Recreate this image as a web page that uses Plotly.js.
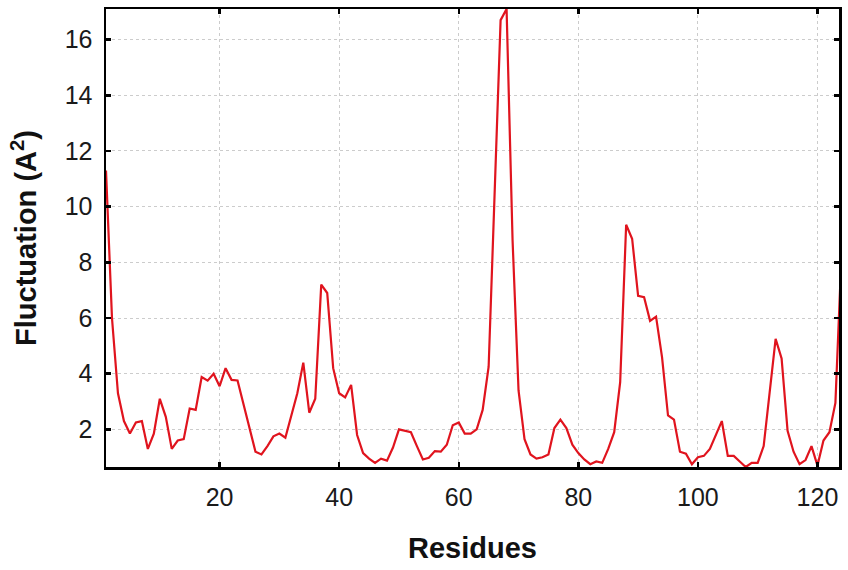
<!DOCTYPE html>
<html>
<head>
<meta charset="utf-8">
<script src="https://cdn.plot.ly/plotly-3.0.1.min.js"></script>
<style>html,body{margin:0;padding:0;background:#fff;}#chart{width:848px;height:570px;}</style>
</head>
<body>
<div id="chart"></div>
<script>
// Residue numbers 1..124
const residues = [
  1,2,3,4,5,6,7,8,9,10,11,12,13,14,15,16,17,18,19,20,
  21,22,23,24,25,26,27,28,29,30,31,32,33,34,35,36,37,38,39,40,
  41,42,43,44,45,46,47,48,49,50,51,52,53,54,55,56,57,58,59,60,
  61,62,63,64,65,66,67,68,69,70,71,72,73,74,75,76,77,78,79,80,
  81,82,83,84,85,86,87,88,89,90,91,92,93,94,95,96,97,98,99,100,
  101,102,103,104,105,106,107,108,109,110,111,112,113,114,115,116,117,118,119,120,
  121,122,123,124
];
// Fluctuation values (A^2)
const fluctuation = [
  11.3,6.0,3.3,2.3,1.85,2.25,2.3,1.3,1.85,3.1,
  2.45,1.3,1.6,1.65,2.75,2.7,3.88,3.75,4.0,3.55,
  4.2,3.78,3.76,2.9,2.0,1.2,1.1,1.4,1.75,1.85,
  1.7,2.55,3.3,4.4,2.6,3.1,7.2,6.9,4.2,3.3,
  3.15,3.6,1.8,1.15,0.95,0.8,0.95,0.88,1.35,2.0,
  1.95,1.9,1.4,0.92,0.98,1.22,1.2,1.45,2.15,2.25,
  1.85,1.85,2.0,2.7,4.25,10.2,16.7,17.1,8.8,3.4,
  1.65,1.1,0.95,1.0,1.1,2.05,2.35,2.05,1.45,1.15,
  0.92,0.75,0.85,0.8,1.3,1.9,3.7,9.35,8.85,6.8,
  6.75,5.9,6.05,4.6,2.5,2.35,1.2,1.13,0.75,1.0,
  1.05,1.3,1.8,2.3,1.05,1.05,0.85,0.65,0.8,0.8,
  1.4,3.35,5.25,4.55,1.95,1.2,0.75,0.9,1.4,0.7,
  1.6,1.9,2.95,8.2
];
const xTicks = [20,40,60,80,100,120];
const yTicks = [2,4,6,8,10,12,14,16];

const fontFam = '"Liberation Sans", Arial, Helvetica, sans-serif';

const trace = {
  x: residues,
  y: fluctuation,
  type: 'scatter',
  mode: 'lines',
  line: {color: '#e0141e', width: 2.2},
  hoverinfo: 'x+y'
};

const axisCommon = {
  showline: true,
  linecolor: '#000',
  linewidth: 2.5,
  mirror: 'allticks',
  ticks: 'inside',
  ticklen: 5,
  tickwidth: 2.5,
  tickcolor: '#000',
  showgrid: true,
  gridcolor: '#cccccc',
  griddash: 'dot',
  gridwidth: 1,
  zeroline: false,
  tickfont: {family: fontFam, size: 25, color: '#1a1a1a'}
};

const layout = {
  width: 848,
  height: 570,
  margin: {l: 106, r: 9, t: 9, b: 103},
  paper_bgcolor: '#fff',
  plot_bgcolor: '#fff',
  showlegend: false,
  xaxis: Object.assign({}, axisCommon, {
    range: [1, 123.6],
    tickmode: 'array',
    tickvals: xTicks,
    ticktext: xTicks.map(String),
    ticklabelstandoff: 6,
    title: {text: '<b>Residues</b>', font: {family: fontFam, size: 29, color: '#111'}, standoff: 28}
  }),
  yaxis: Object.assign({}, axisCommon, {
    range: [0.65, 17.1],
    tickmode: 'array',
    tickvals: yTicks,
    ticktext: yTicks.map(String),
    ticklabelstandoff: 6,
    title: {text: '<b>Fluctuation (A<sup>2</sup>)</b>', font: {family: fontFam, size: 29, color: '#111'}, standoff: 20}
  })
};

Plotly.newPlot('chart', [trace], layout, {displayModeBar: false, staticPlot: true});
</script>
</body>
</html>
